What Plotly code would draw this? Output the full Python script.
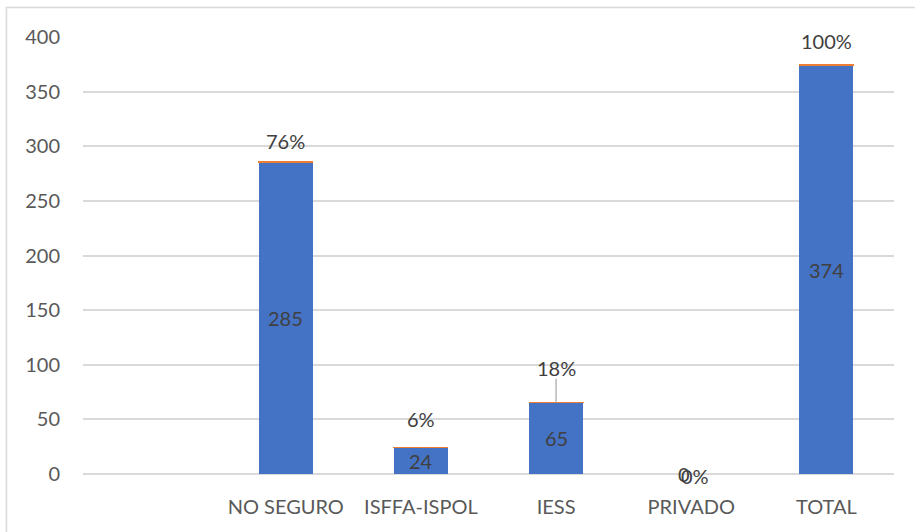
import plotly.graph_objects as go

# Insurance coverage: counts and share of total
categories = ["", "NO SEGURO", "ISFFA-ISPOL", "IESS", "PRIVADO", "TOTAL"]
counts = [None, 285, 24, 65, 0, 374]
shares = [None, 0.76, 0.06, 0.18, 0.0, 1.0]
y_ticks = [0, 50, 100, 150, 200, 250, 300, 350, 400]

# label placement (pixels) for the share labels above each bar
share_dy = [0, 21, 29, 35, -2, 23]
share_dx = [0, 0, 0, 0, 4, 0]
# horizontal nudge of the count labels
count_dx = [0, 0, 0, 0, -7, 0]

BLUE = "#4472C4"
ORANGE = "#ED7D31"
TEXT = "#404040"
FONT = "Lato"
FS = 20

x_pos = list(range(len(categories)))

fig = go.Figure()
fig.add_trace(go.Bar(
    x=x_pos, y=counts, marker=dict(color=BLUE, line=dict(width=0)),
    width=0.4, hoverinfo="skip", showlegend=False,
))
fig.add_trace(go.Bar(
    x=x_pos, y=shares, marker=dict(color=ORANGE, line=dict(color=ORANGE, width=1)),
    width=0.4, hoverinfo="skip", showlegend=False,
))

annotations = []
for i, (c, s) in enumerate(zip(counts, shares)):
    if c is None:
        continue
    # count centred in its bar
    annotations.append(dict(
        x=i, y=c / 2, xref="x", yref="y", text=str(c),
        showarrow=False, xshift=count_dx[i],
        font=dict(family=FONT, size=FS, color=TEXT),
    ))
    # share above the stack
    annotations.append(dict(
        x=i, y=c + s, xref="x", yref="y", text=f"{round(s * 100):.0f}%",
        showarrow=False, yshift=share_dy[i], xshift=share_dx[i],
        font=dict(family=FONT, size=FS, color=TEXT),
    ))

shapes = [
    # leader line for the IESS share label
    dict(type="line", xref="x", yref="y", x0=3, x1=3, ysizemode="pixel",
         yanchor=counts[3] + shares[3], y0=0, y1=24,
         line=dict(color="#a6a6a6", width=1.2)),
    # chart frame
    dict(type="rect", xref="paper", yref="paper", x0=-0.0944, x1=1.04,
         y0=-0.16, y1=1.0675, line=dict(color="#d9d9d9", width=1.5), layer="below"),
]

fig.update_layout(
    width=915, height=532,
    margin=dict(l=83, r=21, t=37, b=58),
    paper_bgcolor="white", plot_bgcolor="white",
    barmode="stack",
    font=dict(family=FONT, size=FS, color="#595959"),
    annotations=annotations, shapes=shapes,
    xaxis=dict(
        range=[-0.5, 5.5], tickmode="array", tickvals=x_pos, ticktext=categories,
        showgrid=False, zeroline=False, showline=False,
        ticks="outside", ticklen=15, tickcolor="rgba(0,0,0,0)",
        tickfont=dict(family=FONT, size=FS, color="#595959"),
    ),
    yaxis=dict(
        range=[0, 400], tickmode="array", tickvals=y_ticks,
        showgrid=True, gridcolor="#d9d9d9", gridwidth=1.5,
        zeroline=True, zerolinecolor="#d9d9d9", zerolinewidth=1.5, showline=False,
        ticks="outside", ticklen=18, tickcolor="rgba(0,0,0,0)",
        tickfont=dict(family=FONT, size=FS, color="#595959"),
    ),
)

fig.write_html("out.html")
